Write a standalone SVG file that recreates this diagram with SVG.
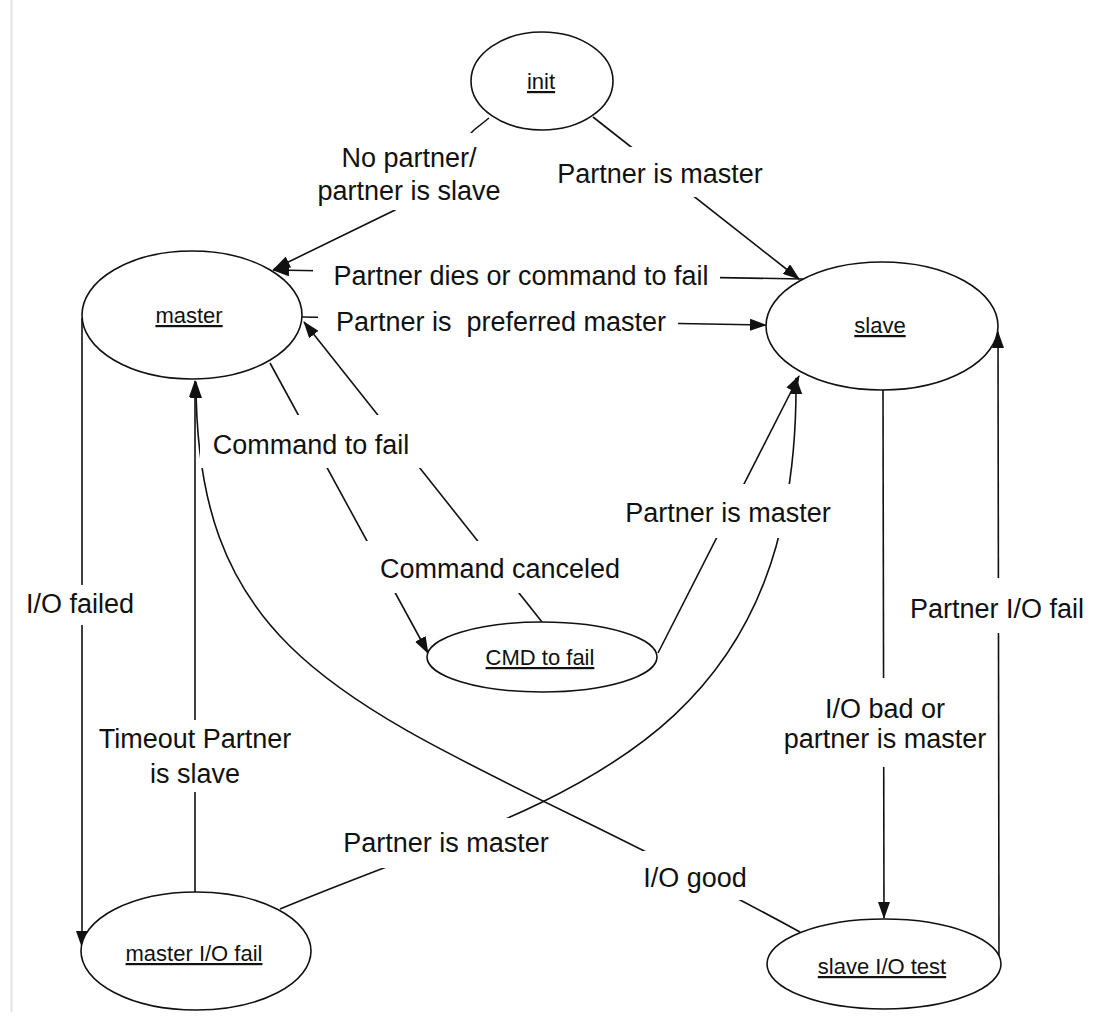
<svg xmlns="http://www.w3.org/2000/svg" width="1103" height="1027" viewBox="0 0 1103 1027">
  <style>
    .node ellipse { fill: #fff; stroke: #111; stroke-width: 1.6; }
    .node text { font-family: "Liberation Sans", Arial, Helvetica, sans-serif; font-size: 22px; text-anchor: middle; text-decoration: underline; fill: #111; }
    .edge { fill: none; stroke: #111; stroke-width: 1.6; marker-end: url(#arrow); }
    .lbl rect { fill: #fff; stroke: none; }
    .lbl text { font-family: "Liberation Sans", Arial, Helvetica, sans-serif; font-size: 27px; text-anchor: middle; fill: #111; white-space: pre; }
  </style>
  <defs>
    <marker id="arrow" markerUnits="userSpaceOnUse" markerWidth="17" markerHeight="12" viewBox="0 0 17 12" refX="16" refY="6" orient="auto">
      <path d="M0,0 L17,6 L0,12 z" fill="#111"/>
    </marker>
  </defs>

  <rect width="1103" height="1027" fill="#fff"/>
  <!-- page margin rule -->
  <line x1="11.5" y1="0" x2="11.5" y2="1012" stroke="#e2e2e2" stroke-width="2"/>

  <g id="connectors">
    <!-- init -> master -->
    <path id="e-init-master" class="edge" d="M489,118 L474,130 L395,210 L274,269"/>
    <!-- init -> slave -->
    <path id="e-init-slave" class="edge" d="M593,117 L799,279"/>
    <!-- slave -> master -->
    <path id="e-slave-master-dies" class="edge" d="M803,279 L273,270"/>
    <!-- master -> slave -->
    <path id="e-master-slave-pref" class="edge" d="M302,317 L766,325"/>
    <!-- master -> CMD to fail -->
    <path id="e-master-cmd" class="edge" d="M270,363 L428,653"/>
    <!-- CMD to fail -> master -->
    <path id="e-cmd-master" class="edge" d="M542,622 L304,322"/>
    <!-- CMD to fail -> slave -->
    <path id="e-cmd-slave" class="edge" d="M658,653 L799,376"/>
    <!-- master I/O fail -> slave -->
    <path id="e-mfail-slave" class="edge" d="M280,909 C540,800 800,760 796,378"/>
    <!-- slave I/O test -> master -->
    <path id="e-stest-master" class="edge" d="M800,932 C400,712 196,700 196,382"/>
    <!-- master I/O fail -> master -->
    <path id="e-mfail-master" class="edge" d="M195,892 L195,381"/>
    <!-- master -> master I/O fail -->
    <path id="e-master-mfail" class="edge" d="M82,318 L82,947"/>
    <!-- slave -> slave I/O test -->
    <path id="e-slave-stest" class="edge" d="M883,390 L884,918"/>
    <!-- slave I/O test -> slave -->
    <path id="e-stest-slave" class="edge" d="M999,962 L998,332"/>

    <!-- connector labels -->
    <g class="lbl">
      <rect x="312" y="133" width="193" height="77"/>
      <text x="409" y="167">No partner/</text>
      <text x="409" y="200">partner is slave</text>
    </g>
    <g class="lbl">
      <rect x="550" y="147" width="220" height="50"/>
      <text x="660" y="183">Partner is master</text>
    </g>
    <g class="lbl">
      <rect x="313" y="262" width="407" height="30"/>
      <text x="521" y="285">Partner dies or command to fail</text>
    </g>
    <g class="lbl">
      <rect x="318" y="307" width="360" height="30"/>
      <text x="501" y="331">Partner is  preferred master</text>
    </g>
    <g class="lbl">
      <rect x="200" y="415" width="225" height="53"/>
      <text x="311" y="454">Command to fail</text>
    </g>
    <g class="lbl">
      <rect x="360" y="541" width="270" height="52"/>
      <text x="500" y="578">Command canceled</text>
    </g>
    <g class="lbl">
      <rect x="615" y="484" width="225" height="54"/>
      <text x="728" y="522">Partner is master</text>
    </g>
    <g class="lbl">
      <rect x="20" y="585" width="120" height="40"/>
      <text x="80" y="613">I/O failed</text>
    </g>
    <g class="lbl">
      <rect x="905" y="578" width="185" height="55"/>
      <text x="997" y="618">Partner I/O fail</text>
    </g>
    <g class="lbl">
      <rect x="778" y="678" width="214" height="89"/>
      <text x="885" y="718">I/O bad or</text>
      <text x="885" y="748">partner is master</text>
    </g>
    <g class="lbl">
      <rect x="92" y="720" width="206" height="72"/>
      <text x="195" y="748">Timeout Partner</text>
      <text x="195" y="783">is slave</text>
    </g>
    <g class="lbl">
      <rect x="335" y="818" width="220" height="50"/>
      <text x="446" y="852">Partner is master</text>
    </g>
    <g class="lbl">
      <rect x="618" y="851" width="130" height="49"/>
      <text x="695" y="887">I/O good</text>
    </g>
  </g>

  <g id="node-init" class="node">
    <ellipse cx="542" cy="81" rx="71" ry="49"/>
    <text x="541" y="89">init</text>
  </g>
  <g id="node-master" class="node">
    <ellipse cx="192" cy="315" rx="110" ry="64"/>
    <text x="189" y="323">master</text>
  </g>
  <g id="node-slave" class="node">
    <ellipse cx="882" cy="326" rx="116" ry="64"/>
    <text x="880" y="333">slave</text>
  </g>
  <g id="node-cmd-to-fail" class="node">
    <ellipse cx="542" cy="657" rx="115" ry="35"/>
    <text x="540" y="665">CMD to fail</text>
  </g>
  <g id="node-master-io-fail" class="node">
    <ellipse cx="196" cy="951" rx="115" ry="59"/>
    <text x="194" y="961">master I/O fail</text>
  </g>
  <g id="node-slave-io-test" class="node">
    <ellipse cx="884" cy="964" rx="117" ry="45"/>
    <text x="882" y="974">slave I/O test</text>
  </g>
</svg>
